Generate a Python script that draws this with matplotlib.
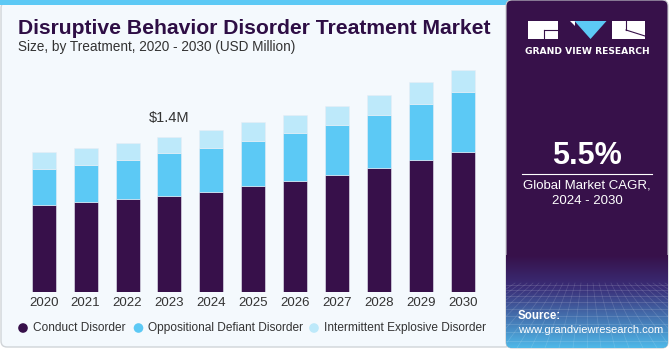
import matplotlib
matplotlib.use("Agg")
import matplotlib.pyplot as plt
import numpy as np
from matplotlib.patches import FancyBboxPatch, Rectangle, Polygon

years = ["2020", "2021", "2022", "2023", "2024", "2025", "2026", "2027", "2028", "2029", "2030"]
conduct = [0.783, 0.813, 0.841, 0.868, 0.907, 0.956, 1.004, 1.058, 1.119, 1.191, 1.267]
oppositional = [0.333, 0.339, 0.354, 0.387, 0.396, 0.411, 0.435, 0.454, 0.484, 0.514, 0.541]
intermittent = [0.148, 0.151, 0.157, 0.145, 0.163, 0.169, 0.160, 0.175, 0.184, 0.194, 0.203]
series_names = ["Conduct Disorder", "Oppositional Defiant Disorder", "Intermittent Explosive Disorder"]
annot_year = "2023"
annot_text = "$1.4M"

C_DARK = "#37104A"
C_MID = "#5CC9F5"
C_LIGHT = "#BDE9FA"
BG = "#F4F9FD"
PURPLE = "#37114A"

W, H = 670, 350
fig = plt.figure(figsize=(6.7, 3.5), dpi=100)
fig.patch.set_facecolor("white")

bg = fig.add_axes([0, 0, 1, 1])
bg.set_xlim(0, W)
bg.set_ylim(H, 0)
bg.axis("off")

# left panel
bg.add_patch(FancyBboxPatch((1, 2), 510, 345, boxstyle="round,pad=0,rounding_size=6",
                            facecolor=BG, edgecolor="#D0D4D8", linewidth=1.0, zorder=0))
bg.add_patch(Rectangle((0, 0), 510, 5, facecolor=C_MID, edgecolor="none", zorder=1))

# right panel with gradient
panel = FancyBboxPatch((506, 0), 162, 348, boxstyle="round,pad=0,rounding_size=6",
                       facecolor=PURPLE, edgecolor="#C8CCD0", linewidth=0.8, zorder=2)
bg.add_patch(panel)
grad = np.zeros((100, 1, 3))
top = np.array([0x37, 0x11, 0x4A]) / 255
mid = np.array([0x3A, 0x2E, 0x78]) / 255
bot = np.array([0x4F, 0xB8, 0xE8]) / 255
for i in range(100):
    t = i / 99
    if t < 0.35:
        c = top + (mid - top) * (t / 0.35)
    else:
        c = mid + (bot - mid) * ((t - 0.35) / 0.65)
    grad[i, 0] = c
im = bg.imshow(grad, extent=(506, 668, 348, 255), aspect="auto", zorder=3, interpolation="bilinear")
im.set_clip_path(panel)
for k in range(14):
    yy = 285 + k * 5 + k * k * 0.25
    if yy > 348:
        break
    ln, = bg.plot([506, 668], [yy, yy], color="white", alpha=0.18, lw=0.5, zorder=4)
    ln.set_clip_path(panel)
for k in range(-12, 26):
    x0 = 587 + k * 6
    x1 = 587 + k * 14
    ln, = bg.plot([x0, x1], [283, 348], color="white", alpha=0.15, lw=0.5, zorder=4)
    ln.set_clip_path(panel)

# logo
bg.add_patch(Rectangle((527.5, 21), 30, 18, facecolor="white", edgecolor="none", zorder=6))
bg.plot([544, 557.5], [30, 30], color=PURPLE, lw=0.8, zorder=7)
bg.plot([544, 544], [30, 39], color=PURPLE, lw=0.8, zorder=7)
bg.add_patch(Polygon([(570, 21), (574.5, 21), (574.5, 26)], closed=True, facecolor="white", edgecolor="none", zorder=6))
bg.add_patch(Polygon([(574.5, 21), (606.5, 21), (590.5, 39)], closed=True, facecolor=C_MID, edgecolor="none", zorder=6))
bg.add_patch(Rectangle((611.5, 21), 33.5, 18, facecolor="white", edgecolor="none", zorder=6))
bg.plot([626, 645], [30, 36], color=PURPLE, lw=0.8, zorder=7)
bg.plot([626, 626], [21, 30], color=PURPLE, lw=0.8, zorder=7)
bg.text(587, 51, "GRAND VIEW RESEARCH", color="white", fontsize=6.6, fontweight="bold",
        ha="center", va="center", family="DejaVu Sans", zorder=7)

bg.text(587, 156, "5.5%", color="white", fontsize=22, fontweight="bold", ha="center", va="center",
        family="Liberation Sans", zorder=7)
bg.plot([522, 652], [173.5, 173.5], color="white", lw=0.8, zorder=7)
bg.text(587, 186, "Global Market CAGR,", color="white", fontsize=9.5, ha="center", va="center",
        family="Liberation Sans", zorder=7)
bg.text(587, 201, "2024 - 2030", color="white", fontsize=9.5, ha="center", va="center",
        family="Liberation Sans", zorder=7)
bg.text(518, 316, "Source:", color="white", fontsize=8.3, fontweight="bold", ha="left", va="center",
        family="Liberation Sans", zorder=7)
bg.text(518, 330, "www.grandviewresearch.com", color="white", fontsize=8.0, ha="left", va="center",
        family="Liberation Sans", zorder=7)

# titles
bg.text(18, 28.5, "Disruptive Behavior Disorder Treatment Market", color="#2E0E45", fontsize=15.2,
        fontweight="bold", ha="left", va="center", family="Liberation Sans", zorder=7)
bg.text(18, 46.5, "Size, by Treatment, 2020 - 2030 (USD Million)", color="#333333", fontsize=9.8,
        ha="left", va="center", family="Liberation Sans", zorder=7)

# main chart axes
ax_left, ax_right = 20, 480
ax_bottom_px, ax_top_px = 58.3, 290
ax = fig.add_axes([ax_left / W, ax_bottom_px / H, (ax_right - ax_left) / W, (ax_top_px - ax_bottom_px) / H])
ax.set_facecolor("none")
x = np.arange(len(years))
bw = 0.573
conduct_a = np.array(conduct)
opp_a = np.array(oppositional)
int_a = np.array(intermittent)
ec = "#E8EEF5"
ax.bar(x, conduct_a, bw, color=C_DARK, edgecolor=ec, linewidth=0.4, zorder=3)
ax.bar(x, opp_a, bw, bottom=conduct_a, color=C_MID, edgecolor=ec, linewidth=0.4, zorder=3)
ax.bar(x, int_a, bw, bottom=conduct_a + opp_a, color=C_LIGHT, edgecolor=ec, linewidth=0.4, zorder=3)
ax.set_xlim(-0.566, 10.413)
ax.set_ylim(0, 2.102)
for s in ax.spines.values():
    s.set_visible(False)
ax.set_yticks([])
ax.set_xticks(x)
ax.set_xticklabels(years, fontsize=9.5, color="#333333", family="Liberation Sans")
ax.tick_params(axis="x", length=0, pad=4)

i = years.index(annot_year)
tot = conduct_a[i] + opp_a[i] + int_a[i]
ax.annotate(annot_text, (x[i], tot), xytext=(0, 14), textcoords="offset points",
            ha="center", va="center", fontsize=10.5, color="#333333", family="Liberation Sans")

# legend
leg_y = 328
colors = [C_DARK, C_MID, C_LIGHT]
xs = [23, 138.5, 314]
for xm, c, name in zip(xs, colors, series_names):
    bg.scatter([xm], [leg_y], s=48, color=c, zorder=7, edgecolors="none")
    bg.text(xm + 10, leg_y, name, fontsize=8.6, color="#333333", ha="left", va="center",
            family="Liberation Sans", zorder=7)

fig.savefig("out.png", dpi=100, facecolor=fig.get_facecolor())
